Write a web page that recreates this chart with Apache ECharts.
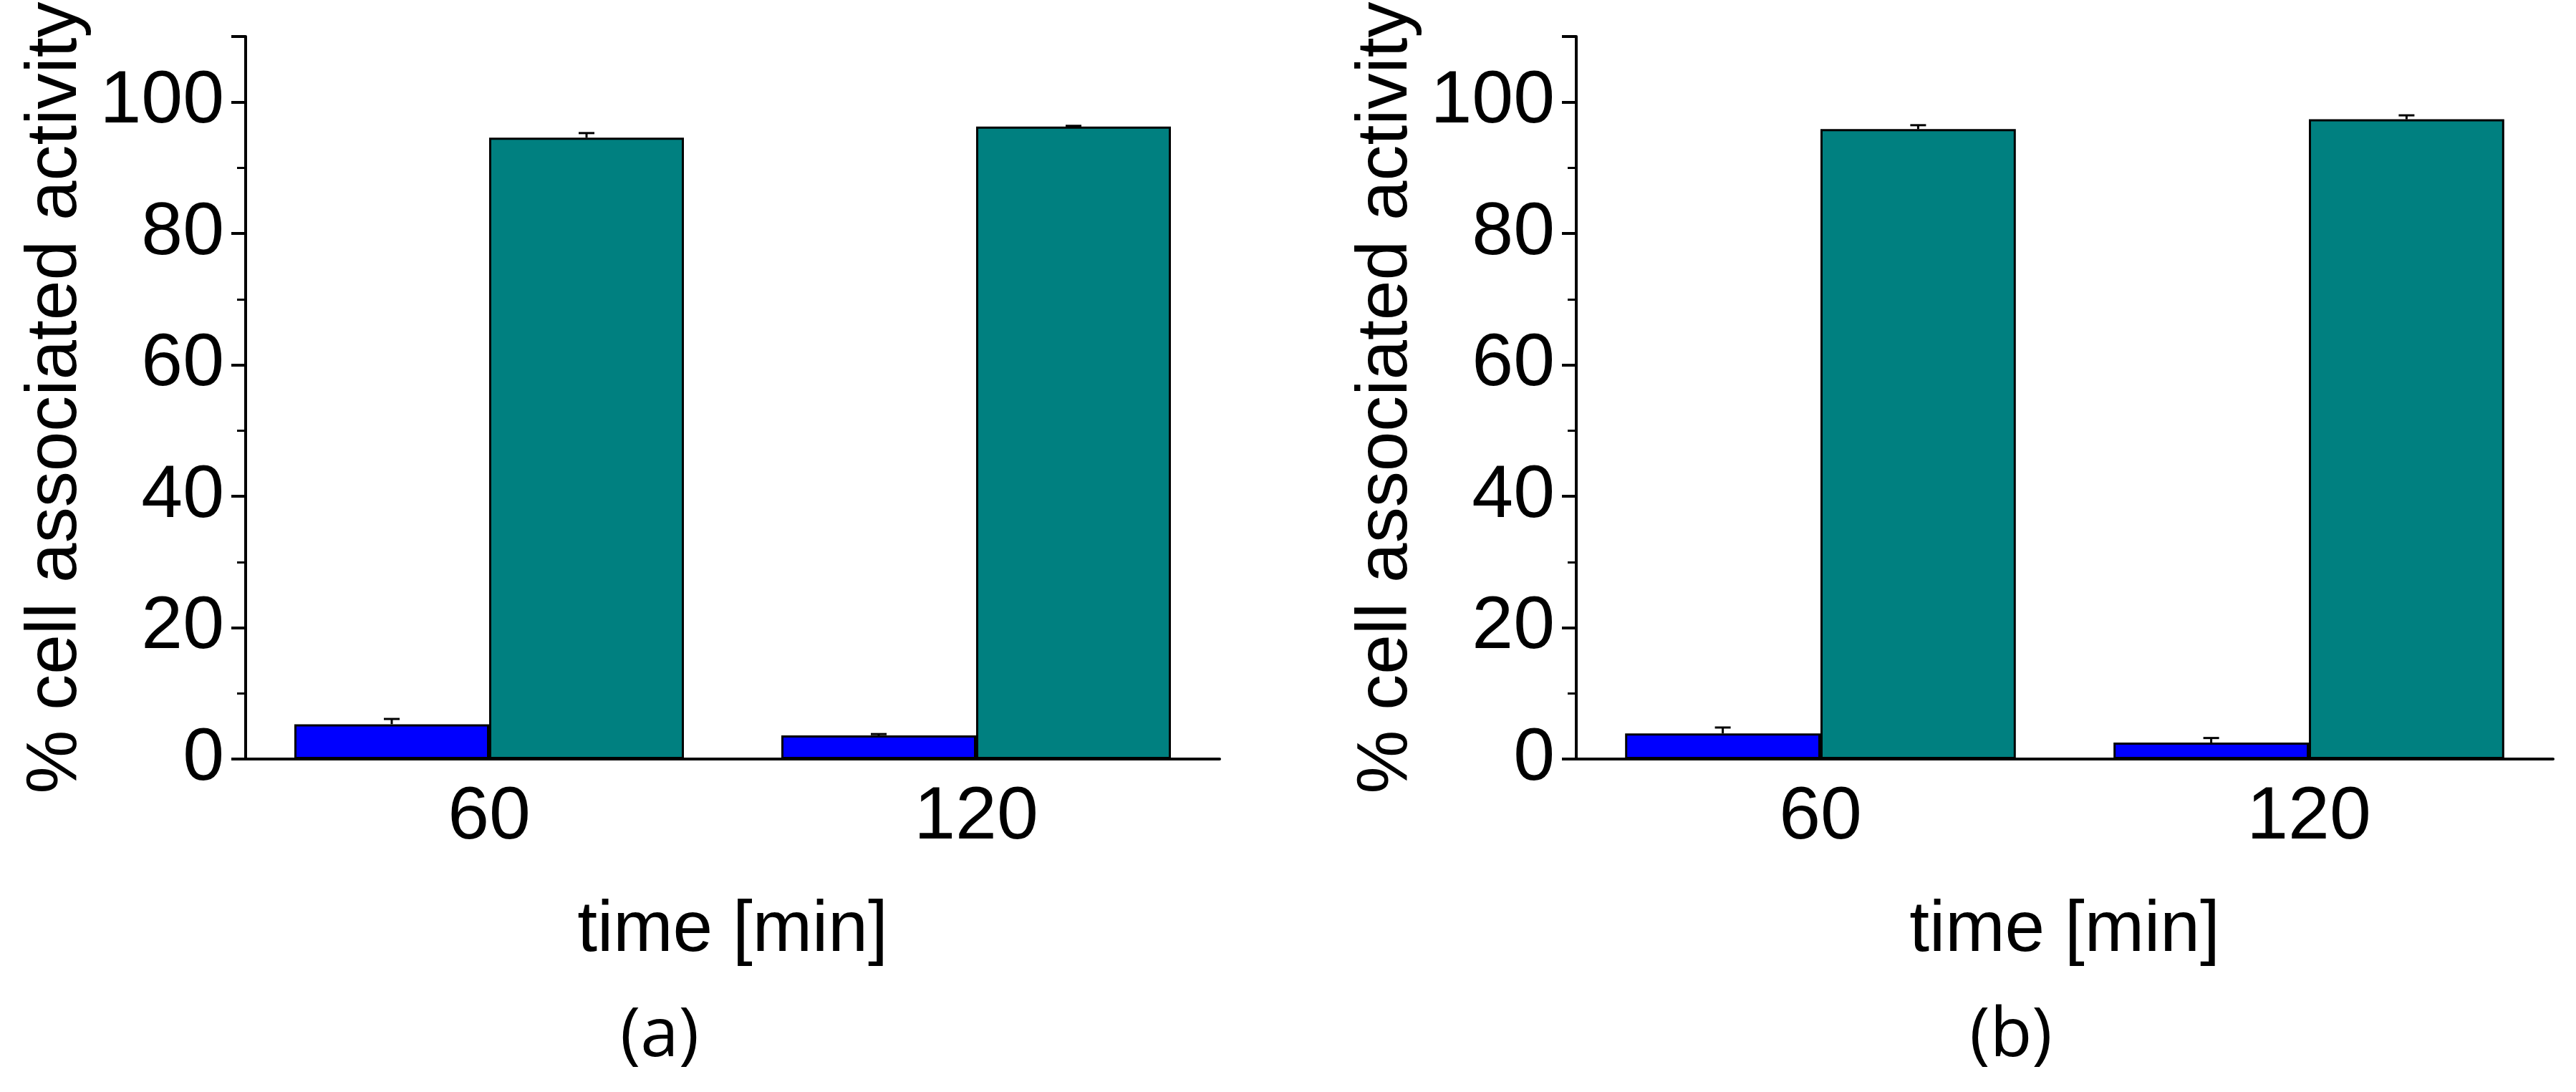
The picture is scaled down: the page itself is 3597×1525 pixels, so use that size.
<!DOCTYPE html>
<html>
<head>
<meta charset="utf-8">
<script src="https://cdn.jsdelivr.net/npm/echarts@6/dist/echarts.min.js"></script>
<style>html,body{margin:0;padding:0;background:#fff}#chart{width:3597px;height:1525px}</style>
</head>
<body>
<div id="chart"></div>
<script>
var categories = ['60', '120'];
// panel (a)
var blueA = [5.3, 3.6];
var blueErrA = [0.8, 0.2];
var tealA = [94.6, 96.3];
var tealErrA = [0.7, 0.1];
// panel (b)
var blueB = [3.9, 2.5];
var blueErrB = [0.9, 0.7];
var tealB = [95.9, 97.4];
var tealErrB = [0.6, 0.6];

var font = 'Liberation Sans, Arial, sans-serif';
var chart = echarts.init(document.getElementById('chart'));

function errSeries(idx, vals, errs, side) {
    return {
        type: 'custom', xAxisIndex: idx, yAxisIndex: idx, z: 5,
        data: vals.map(function (v, i) { return [i, v, v + errs[i]]; }),
        renderItem: function (params, api) {
            var band = api.size([1, 0])[0];
            var c = api.coord([api.value(0), api.value(1)]);
            var t = api.coord([api.value(0), api.value(2)]);
            var x = c[0] + side * band * 0.2;
            var st = { stroke: '#000', lineWidth: 3 };
            return { type: 'group', children: [
                { type: 'line', shape: { x1: x, y1: c[1], x2: x, y2: t[1] }, style: st },
                { type: 'line', shape: { x1: x - 11, y1: t[1], x2: x + 11, y2: t[1] }, style: st }
            ] };
        }
    };
}

var grids = [
    { left: 343, width: 1360, top: 51, bottom: 465 },
    { left: 2201, width: 1364, top: 51, bottom: 465 }
];
var xAxes = [], yAxes = [], series = [];
[[blueA, blueErrA, tealA, tealErrA], [blueB, blueErrB, tealB, tealErrB]].forEach(function (d, i) {
    xAxes.push({
        type: 'category', gridIndex: i, data: categories,
        name: 'time [min]', nameLocation: 'middle', nameGap: 190,
        nameTextStyle: { fontFamily: font, fontSize: 100, color: '#000' },
        axisLine: { lineStyle: { color: '#000', width: 4 } },
        axisTick: { alignWithLabel: true, length: 26, lineStyle: { width: 4 } },
        axisLabel: { fontFamily: font, fontSize: 104, color: '#000', margin: 30 }
    });
    yAxes.push({
        type: 'value', gridIndex: i, min: 0, max: 110, interval: 20,
        name: '% cell associated activity', nameLocation: 'middle', nameGap: 215,
        nameTextStyle: { fontFamily: font, fontSize: 100, color: '#000' },
        axisLine: { show: true, lineStyle: { color: '#000', width: 4 } },
        axisTick: { show: true, length: 20, lineStyle: { width: 4 } },
        minorTick: { show: true, splitNumber: 2, length: 12, lineStyle: { color: '#000', width: 3 } },
        splitLine: { show: false },
        axisLabel: { fontFamily: font, fontSize: 104, color: '#000', margin: 30 }
    });
    series.push(
        { type: 'bar', xAxisIndex: i, yAxisIndex: i, data: d[0], barGap: '0%', barCategoryGap: '20%',
          itemStyle: { color: '#0000ff', borderColor: '#000', borderWidth: 3 } },
        { type: 'bar', xAxisIndex: i, yAxisIndex: i, data: d[2],
          itemStyle: { color: '#008080', borderColor: '#000', borderWidth: 3 } },
        errSeries(i, d[0], d[1], -1),
        errSeries(i, d[2], d[3], 1)
    );
});

chart.setOption({
    animation: false,
    title: [
        { text: '(a)', left: 916, top: 1395, textAlign: 'center',
          textStyle: { fontFamily: 'Open Sans, sans-serif', fontWeight: 'normal', fontSize: 96, color: '#000' } },
        { text: '(b)', left: 2803, top: 1395, textAlign: 'center',
          textStyle: { fontFamily: 'Open Sans, sans-serif', fontWeight: 'normal', fontSize: 96, color: '#000' } }
    ],
    grid: grids, xAxis: xAxes, yAxis: yAxes, series: series
});
</script>
</body>
</html>
